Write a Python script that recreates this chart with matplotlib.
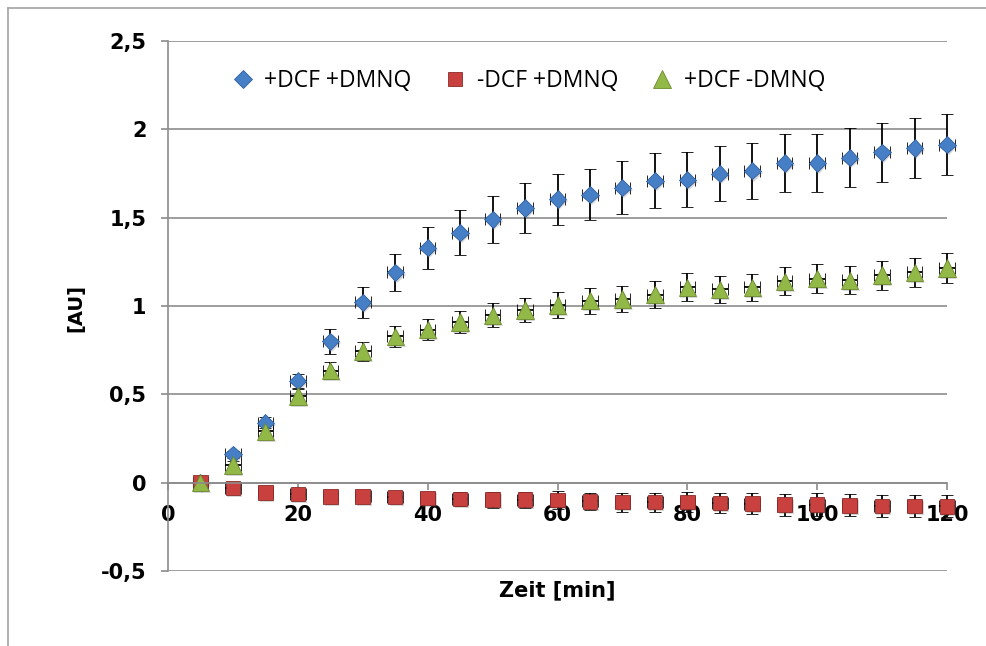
import numpy as np
import matplotlib
matplotlib.use("Agg")
import matplotlib.pyplot as plt
import matplotlib.patheffects as pe
from matplotlib.lines import Line2D

# Time points [min]
time_min = [5, 10, 15, 20, 25, 30, 35, 40, 45, 50, 55, 60,
            65, 70, 75, 80, 85, 90, 95, 100, 105, 110, 115, 120]
time_err = [1.2] * 24

# +DCF +DMNQ
dcf_dmnq = [0.00, 0.16, 0.34, 0.577, 0.80, 1.02, 1.19, 1.33, 1.415, 1.49, 1.555, 1.605,
            1.63, 1.67, 1.71, 1.715, 1.75, 1.765, 1.81, 1.81, 1.84, 1.87, 1.895, 1.913]
dcf_dmnq_err = [0.005, 0.02, 0.03, 0.04, 0.07, 0.09, 0.107, 0.119, 0.127, 0.134, 0.139, 0.145,
                0.146, 0.149, 0.155, 0.155, 0.158, 0.158, 0.162, 0.163, 0.165, 0.168, 0.17, 0.172]

# -DCF +DMNQ
nodcf_dmnq = [0.0, -0.03, -0.055, -0.064, -0.077, -0.077, -0.081, -0.087, -0.092, -0.096, -0.096, -0.098,
              -0.106, -0.11, -0.11, -0.11, -0.115, -0.119, -0.125, -0.125, -0.128, -0.132, -0.132, -0.134]
nodcf_dmnq_err = [0.005, 0.01, 0.015, 0.02, 0.02, 0.025, 0.03, 0.035, 0.04, 0.045, 0.045, 0.05,
                  0.049, 0.054, 0.054, 0.056, 0.055, 0.058, 0.061, 0.064, 0.062, 0.064, 0.064, 0.063]

# +DCF -DMNQ
dcf_nodmnq = [0.0, 0.10, 0.29, 0.49, 0.634, 0.745, 0.828, 0.866, 0.91, 0.947, 0.977, 1.005,
              1.03, 1.04, 1.065, 1.105, 1.095, 1.105, 1.14, 1.155, 1.145, 1.175, 1.19, 1.215]
dcf_nodmnq_err = [0.005, 0.02, 0.03, 0.04, 0.047, 0.054, 0.058, 0.061, 0.064, 0.068, 0.07, 0.072,
                  0.073, 0.073, 0.075, 0.079, 0.076, 0.077, 0.079, 0.08, 0.079, 0.082, 0.082, 0.085]

series_labels = ["+DCF +DMNQ", "-DCF +DMNQ", "+DCF -DMNQ"]
y_ticks = [-0.5, 0, 0.5, 1, 1.5, 2, 2.5]
x_ticks = [0, 20, 40, 60, 80, 100, 120]

GRID = "#8c8c8c"
FRAME = "#a3a3a3"

W, H = 987, 646
fig = plt.figure(figsize=(W / 100, H / 100), dpi=100)
fig.patch.set_facecolor("white")

# outer chart frame (runs off the right and bottom edges)
fig.add_artist(Line2D([8.5 / W, 8.5 / W], [0, 1 - 8 / H], color=FRAME, lw=1.2,
                      transform=fig.transFigure))
fig.add_artist(Line2D([8.5 / W, 1], [1 - 8 / H, 1 - 8 / H], color=FRAME, lw=1.2,
                      transform=fig.transFigure))

ax = fig.add_axes([168 / W, 1 - 571 / H, (947 - 168) / W, (571 - 41) / H])
ax.set_xlim(0, 120)
ax.set_ylim(-0.5, 2.5)

for s in ("top", "right"):
    ax.spines[s].set_visible(False)
ax.spines["bottom"].set_position(("data", 0))
for s in ("bottom", "left"):
    ax.spines[s].set_color(GRID)
    ax.spines[s].set_linewidth(1.2)

ax.set_yticks(y_ticks)
ax.set_yticklabels([f"{v:g}".replace(".", ",") for v in y_ticks],
                   fontsize=15, fontweight="bold")
ax.set_xticks(x_ticks)
ax.set_xticklabels([str(v) for v in x_ticks], fontsize=15, fontweight="bold")
ax.tick_params(axis="y", direction="out", length=5, width=1.2, color=GRID, pad=10.5)
ax.tick_params(axis="x", direction="out", length=5, width=1.2, color=GRID, pad=11)
ax.yaxis.grid(True, color=GRID, lw=1.2)
ax.set_axisbelow(True)

shadow = [pe.SimplePatchShadow(offset=(1.2, -1.5), shadow_rgbFace="#666666", alpha=0.25),
          pe.Normal()]

styles = [
    dict(marker="D", ms=8.8, mfc="#467fc6", mec="#2f5f9e"),
    dict(marker="s", ms=10.5, mfc="#c9413e", mec="#8e2a28"),
    dict(marker="^", ms=12.5, mfc="#92b847", mec="#6a8a2c"),
]
data = [(dcf_dmnq, dcf_dmnq_err), (nodcf_dmnq, nodcf_dmnq_err), (dcf_nodmnq, dcf_nodmnq_err)]

handles = []
for (vals, errs), st, lab in zip(data, styles, series_labels):
    eb = ax.errorbar(time_min, vals, yerr=errs, xerr=time_err, ls="none",
                     ecolor="black", elinewidth=1.3, capsize=4.3, capthick=1.3,
                     mew=0.6, clip_on=False, **st)
    eb[0].set_path_effects(shadow)
    for c in eb[1]:
        c.set_clip_on(False)
    for c in eb[2]:
        c.set_clip_on(False)
    handles.append(Line2D([], [], ls="none", mew=0.6, label=lab, **st))

leg = fig.legend(handles=handles, loc="center", bbox_to_anchor=(528 / W, 1 - 81 / H),
                 bbox_transform=fig.transFigure, ncol=3, frameon=False,
                 prop=dict(family="Open Sans", size=16.5), handlelength=1.0,
                 handletextpad=0.45, columnspacing=1.4, borderpad=0)

fig.text(557.5 / W, 1 - 590 / H, "Zeit [min]", ha="center", va="center",
         fontsize=15, fontweight="bold")
fig.text(76 / W, 1 - 308 / H, "[AU]", ha="center", va="center", rotation=90,
         fontsize=14, fontweight="bold")

fig.savefig("out.png", dpi=100, facecolor="white")
